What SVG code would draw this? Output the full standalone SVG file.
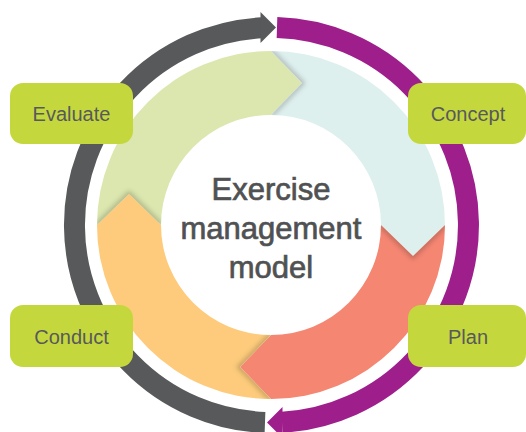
<svg xmlns="http://www.w3.org/2000/svg" width="526" height="432" viewBox="0 0 526 432">
  <style>
    .lbl { fill: #c4d83e; }
    .lbltxt { font-family: "Liberation Sans", Arial, sans-serif; font-size: 20px; fill: #58595b; text-anchor: middle; }
    .ctr { font-family: "Liberation Sans", Arial, sans-serif; font-size: 31px; fill: #505153; stroke: #505153; stroke-width: 0.7; text-anchor: middle; }
    .ring { fill: none; stroke-width: 21; }
    .shadow { fill: none; stroke: #000; stroke-opacity: 0.22; stroke-width: 5; filter: url(#blur); }
  </style>
  <defs>
    <filter id="blur" x="-50%" y="-50%" width="200%" height="200%">
      <feGaussianBlur stdDeviation="2.5"/>
    </filter>
    <path id="segGreen" d="M 97 225 A 174 174 0 0 1 271 51 L 302 83 L 271 115 A 110 110 0 0 0 161 225 L 129 194 Z"/>
    <path id="segBlue" d="M 271 51 A 174 174 0 0 1 445 225 L 413 256 L 381 225 A 110 110 0 0 0 271 115 L 302 83 Z"/>
    <path id="segSalmon" d="M 445 225 A 174 174 0 0 1 271 399 L 240 367 L 271 335 A 110 110 0 0 0 381 225 L 413 256 Z"/>
    <path id="segOrange" d="M 271 399 A 174 174 0 0 1 97 225 L 129 194 L 161 225 A 110 110 0 0 0 271 335 L 240 367 Z"/>
    <clipPath id="clipGreen"><use href="#segGreen"/></clipPath>
    <clipPath id="clipBlue"><use href="#segBlue"/></clipPath>
    <clipPath id="clipSalmon"><use href="#segSalmon"/></clipPath>
    <clipPath id="clipOrange"><use href="#segOrange"/></clipPath>
  </defs>
  <rect width="526" height="432" fill="#ffffff"/>

  <g id="connectors">
    <path class="ring" stroke="#58595b" d="M 265 422.4 A 197.5 197.5 0 0 1 261.5 27.8"/>
    <polygon fill="#58595b" points="260.5,12 276,27.5 260.5,43"/>
    <path class="ring" stroke="#9e1f8c" d="M 277 27.6 A 197.5 197.5 0 0 1 282 422.2"/>
    <polygon fill="#9e1f8c" points="282.5,407 267,422.5 282.5,438"/>
  </g>

  <g id="cycle">
    <use href="#segGreen" fill="#dbe7ae"/>
    <use href="#segBlue" fill="#def0ee"/>
    <use href="#segSalmon" fill="#f58672"/>
    <use href="#segOrange" fill="#fdcb7b"/>
    <g clip-path="url(#clipBlue)"><polyline class="shadow" points="271,51 302,83 271,115"/></g>
    <g clip-path="url(#clipSalmon)"><polyline class="shadow" points="381,225 413,256 445,225"/></g>
    <g clip-path="url(#clipOrange)"><polyline class="shadow" points="271,399 240,367 271,335"/></g>
    <g clip-path="url(#clipGreen)"><polyline class="shadow" points="97,225 129,194 161,225"/></g>
  </g>

  <g id="center">
    <text class="ctr" x="271" y="200">Exercise</text>
    <text class="ctr" x="271" y="239">management</text>
    <text class="ctr" x="271" y="278">model</text>
  </g>

  <g id="evaluate">
    <rect class="lbl" x="10" y="83" width="123" height="61" rx="13"/>
    <text class="lbltxt" x="71.5" y="121">Evaluate</text>
  </g>
  <g id="concept">
    <rect class="lbl" x="408" y="83" width="118" height="61" rx="13"/>
    <text class="lbltxt" x="468" y="121">Concept</text>
  </g>
  <g id="conduct">
    <rect class="lbl" x="10" y="305" width="123" height="62" rx="13"/>
    <text class="lbltxt" x="71.5" y="344">Conduct</text>
  </g>
  <g id="plan">
    <rect class="lbl" x="408" y="305" width="118" height="62" rx="13"/>
    <text class="lbltxt" x="468" y="344">Plan</text>
  </g>
</svg>
